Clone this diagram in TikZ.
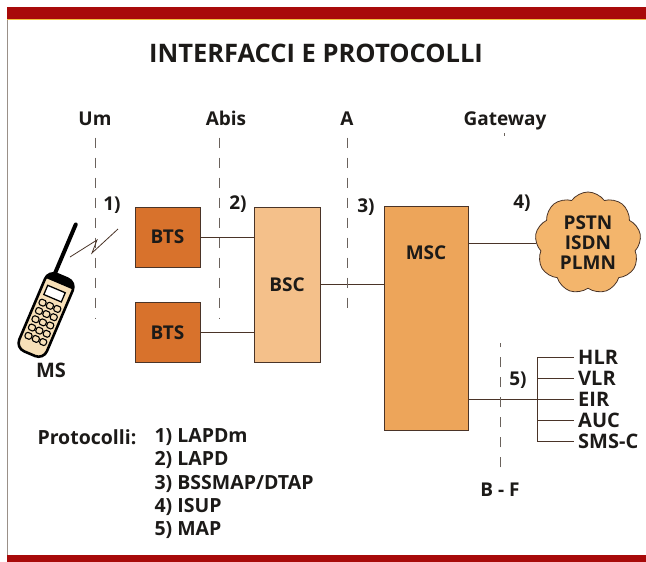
\documentclass[tikz,border=0pt]{standalone}
\usepackage{fontspec}
\setmainfont{Open Sans}
\usetikzlibrary{shapes.symbols,positioning}

\definecolor{barred}{HTML}{A80A0A}
\definecolor{baryellow}{HTML}{F2C040}
\definecolor{framegray}{HTML}{9A9088}
\definecolor{ink}{HTML}{1C1A18}
\definecolor{edge}{HTML}{4A3428}
\definecolor{dashgray}{HTML}{6A625C}
\definecolor{btsorange}{HTML}{D8722C}
\definecolor{bscorange}{HTML}{F4C08A}
\definecolor{mscorange}{HTML}{EDA55A}
\definecolor{cloudorange}{HTML}{F3B56C}
\definecolor{phonebeige}{HTML}{F7E0B8}

\tikzset{
  lbl/.style={font=\fontsize{19}{21}\selectfont\bfseries, text=ink, text height=14pt, text depth=4pt},
  leg/.style={font=\fontsize{19.5}{22}\selectfont\bfseries, text=ink, anchor=west},
  unitbox/.style={draw=edge, line width=0.8pt, inner sep=0pt, font=\fontsize{19}{21}\selectfont\bfseries, text=ink},
  link/.style={draw=edge, line width=0.9pt},
  ifline/.style={draw=dashgray, line width=0.7pt, dash pattern=on 10pt off 10pt},
}

\begin{document}
\begin{tikzpicture}[x=1pt, y=-1pt]
\useasboundingbox (0,0) rectangle (646,562);

% Frame
\fill[barred] (7,7) rectangle (646,18.5);
\fill[baryellow] (7,18.5) rectangle (646,20);
\draw[framegray, line width=1.2pt] (7.5,20) -- (7.5,555);
\fill[barred] (7,555) rectangle (646,562);

% Title
\node[font=\fontsize{25.5}{28}\selectfont\bfseries, text=ink] (title) at (316,53) {INTERFACCI E PROTOCOLLI};

% Interfaces
\node[lbl] (Um) at (95,120) {Um};
\node[lbl] (Abis) at (226,120) {Abis};
\node[lbl] (A) at (347,120) {A};
\node[lbl] (Gw) at (505,120) {Gateway};

% Units
\node[unitbox, fill=btsorange, minimum width=65pt, minimum height=60pt] (BTS1) at (167.5,237) {BTS};
\node[unitbox, fill=btsorange, minimum width=65pt, minimum height=60pt] (BTS2) at (167.5,332.5) {BTS};
\node[unitbox, fill=bscorange, minimum width=66pt, minimum height=155pt] (BSC) at (287,284.5) {BSC};
\node[unitbox, fill=mscorange, minimum width=84pt, minimum height=224pt] (MSC) at (426,318) {};
\node[lbl] (MSCt) at ([yshift=-49pt]MSC.north) {MSC};
\node[cloud, cloud puffs=9, cloud puff arc=110, aspect=1.05, draw=edge, line width=0.8pt, fill=cloudorange,
      minimum width=106pt, minimum height=102pt, inner sep=0pt, align=center,
      font=\fontsize{19}{20}\selectfont\bfseries, text=ink] (NET) at (588,243) {PSTN\\ISDN\\PLMN};

% Links
\draw[link] (BTS1.east) -- (BTS1.east -| BSC.west);
\draw[link] (BTS2.east) -- (BTS2.east -| BSC.west);
\draw[link] (BSC.east) -- (BSC.east -| MSC.west);
\draw[link] (MSC.east |- NET.west) -- (NET.west);

% Databases
\foreach \t/\y [count=\i] in {HLR/357, VLR/378, EIR/399, AUC/420, SMS-C/441}
  \node[leg, font=\fontsize{20}{22}\selectfont\bfseries, inner sep=4pt] (db\i) at (574,\y) {\t};
\coordinate (br) at (537,399);
\draw[link] (MSC.east |- br) -- (br);
\draw[link] (br |- db1.west) -- (br |- db5.west);
\foreach \i in {1,...,5}
  \draw[link] (br |- db\i.west) -- (db\i.west);

% Interface lines
\draw[ifline] ([yshift=-5pt]Um.south) -- ++(0,181);
\draw[ifline] ([xshift=-7pt,yshift=-5pt]Abis.south) -- ++(0,181);
\draw[ifline] ([yshift=-5pt]A.south) -- ++(0,178);
\draw[ifline] ([xshift=-1pt,yshift=-3pt]Gw.south) -- (Gw.south -| 504,0 |- NET.west);
\node[lbl] (BF) at (500,491) {B - F};
\draw[ifline] ([yshift=11pt]BF.north) -- ++(0,-124);

% Protocol numbers
\node[lbl] (n1) at (112,205) {1)};
\node[lbl] (n2) at (238,204) {2)};
\node[lbl] (n3) at (366,207) {3)};
\node[lbl] (n4) at (522,203) {4)};
\node[lbl] (n5) at (518,380) {5)};

% Mobile station
\begin{scope}[shift={(46,315)}, rotate=-23]
  \draw[line width=4pt, line cap=round] (-8,-40) -- (-8,-95);
  \draw[fill=phonebeige, line width=2.6pt, rounded corners=9pt] (-15,-42) rectangle (15,42);
  \begin{scope}
    \clip[rounded corners=9pt] (-15,-42) rectangle (15,42);
    \fill (-15,-42) rectangle (15,-34);
  \end{scope}
  \draw[line width=1.3pt, fill=white] (-10,-28) rectangle (9,-18);
  \foreach \cx in {-8,0,8}
    \foreach \cy in {-10,-1,8,17,26}
      \draw[line width=1.1pt, rounded corners=1.5pt] (\cx-3.3,\cy-3) rectangle (\cx+3.3,\cy+3);
\end{scope}
\node[lbl, font=\fontsize{20}{22}\selectfont\bfseries] (MS) at (51,372) {MS};
\draw[edge, line width=0.8pt] (70,257) -- (97,240) -- (92,253) -- (118,229);

% Legend
\node[leg] (proto) at (34,437) {Protocolli:};
\foreach \t [count=\i from 0] in {1) LAPDm, 2) LAPD, 3) BSSMAP/DTAP, 4) ISUP, 5) MAP}
  \node[leg] (p\i) at (151,437+23.3*\i) {\t};

\end{tikzpicture}
\end{document}
